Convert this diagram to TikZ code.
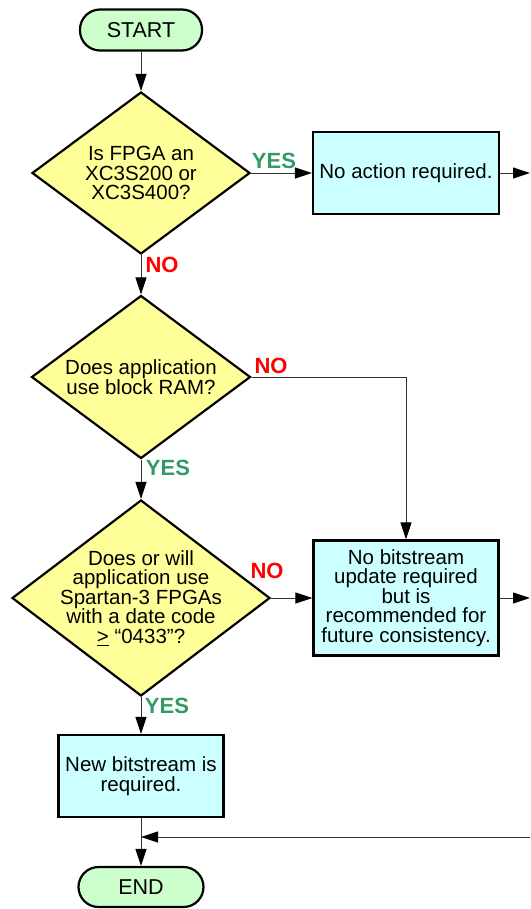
\documentclass[tikz,border=0pt]{standalone}
\usepackage{fontspec}
\setmainfont{Liberation Sans}
\usetikzlibrary{shapes.geometric,arrows.meta}
\definecolor{decfill}{HTML}{FFFF99}
\definecolor{actfill}{HTML}{CCFFFF}
\definecolor{termfill}{HTML}{CCFFCC}
\definecolor{yesgreen}{HTML}{339966}
\definecolor{nored}{HTML}{FF0000}
\begin{document}
\begin{tikzpicture}[x=1pt,y=-1pt,
  every node/.style={font=\fontsize{20.5}{19.5}\selectfont,align=center},
  term/.style={rectangle,rounded corners=20pt,draw=black,line width=2.2pt,fill=termfill,minimum width=122pt,minimum height=41pt,font=\fontsize{21.5}{21.5}\selectfont},
  decision/.style={diamond,draw=black,line width=2.2pt,fill=decfill,inner sep=-40pt},
  action/.style={rectangle,draw=black,line width=2.2pt,fill=actfill,inner sep=0pt},
  yes/.style={text=yesgreen,font=\fontsize{22}{22}\selectfont\bfseries,inner sep=0pt},
  no/.style={text=nored,font=\fontsize{22}{22}\selectfont\bfseries,inner sep=0pt},
  conn/.style={draw=black!80,line width=0.9pt,-{Triangle[length=17pt,width=11pt,color=black]}}]
\useasboundingbox (0,0) rectangle (530,909);

\node[term] (start) at (141,30) {START};
\node[decision,minimum width=218pt,minimum height=162pt] (fpga) at (141,173) {Is FPGA an\\XC3S200 or\\XC3S400?};
\node[action,minimum width=186pt,minimum height=82pt] (noact) at (406,173) {No action required.};
\node[decision,minimum width=219pt,minimum height=163pt] (bram) at (141,377) {Does application\\use block RAM?};
\node[decision,minimum width=258pt,minimum height=196pt] (date) at (141,598) {Does or will\\application use\\Spartan-3 FPGAs\\with a date code\\\underline{>} “0433”?};
\node[action,minimum width=185pt,minimum height=115pt] (noupd) at (406,598) {No bitstream\\update required\\but is\\recommended for\\future consistency.};
\node[action,minimum width=165pt,minimum height=82pt] (newbit) at (141,776) {New bitstream is\\required.};
\node[term,minimum width=125pt,minimum height=40pt] (end) at (141,887) {END};

% branch labels
\node[yes] (yes1) at (274,161) {YES};
\node[no]  (no1)  at (162,265) {NO};
\node[no]  (no2)  at (271,366) {NO};
\node[yes] (yes2) at (168,468) {YES};
\node[no]  (no3)  at (267,571) {NO};
\node[yes] (yes3) at (167,706) {YES};

% off-page ends
\coordinate (out1)  at (530,173);
\coordinate (out2)  at (530,598);
\coordinate (back)  at (530,837);
\coordinate (merge) at (141,837);

\draw[conn] (start) -- (fpga);
\draw[conn] (fpga) -- (noact);
\draw[conn] (noact) -- (out1);
\draw[conn] (fpga) -- (bram);
\draw[conn] (bram.east) -| (noupd.north);
\draw[conn] (bram) -- (date);
\draw[conn] (date) -- (noupd);
\draw[conn] (noupd) -- (out2);
\draw[conn] (date) -- (newbit);
\draw[conn] (newbit) -- (end);
\draw[conn] (back) -- (merge);

\end{tikzpicture}
\end{document}
